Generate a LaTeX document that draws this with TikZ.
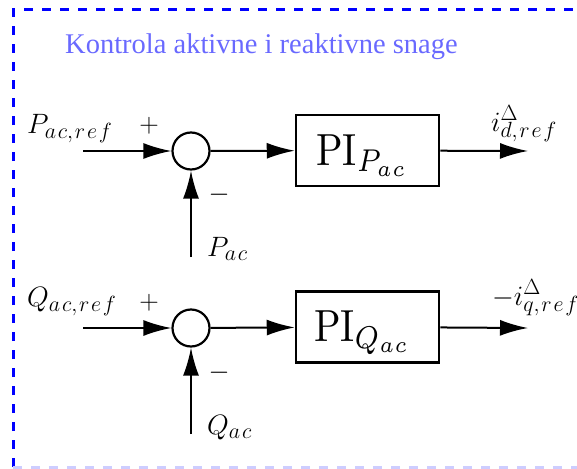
\RequirePackage{fix-cm}
\documentclass[tikz,border=0pt]{standalone}
\usepackage{fontspec}
\newfontfamily\titlefont{Liberation Serif}
\usetikzlibrary{arrows.meta,calc}
\DeclareMathSizes{28}{28}{22}{17}
\DeclareMathSizes{27}{27}{21}{16}
\definecolor{bordblue}{RGB}{0,0,255}
\definecolor{titleblue}{RGB}{105,105,255}
\definecolor{faintblue}{RGB}{205,205,255}
\newcommand{\sk}{\kern1.8pt}
\tikzset{
  conn/.style={line width=2pt,-{Latex[length=28pt,width=16pt]}},
  sumc/.style={circle,draw,line width=2.2pt,minimum size=37pt,inner sep=0pt},
  pibox/.style={draw,line width=2.5pt,minimum width=143pt,minimum height=71pt,inner sep=0pt},
  pitext/.style={inner sep=0pt,anchor=base,font=\normalsize,xscale=3.9,yscale=4.5},
  lab/.style={inner sep=0pt,font=\fontsize{28}{32}\selectfont},
  sgn/.style={inner sep=0pt,font=\fontsize{27}{30}\selectfont},
  frame/.style={bordblue,line width=3pt,dash pattern=on 9pt off 9pt},
}
\begin{document}
\begin{tikzpicture}[x=1pt,y=-1pt]
\useasboundingbox (0,0) rectangle (577,468);
% frame
\coordinate (fbl) at (13,467);
\coordinate (ftl) at (13,10);
\coordinate (ftr) at (590,10);
\coordinate (fbr) at (590,467);
\draw[frame] (fbl) -- (ftl) -- (ftr);
\draw[frame,faintblue] (fbl) -- (fbr);
\node[anchor=base west,inner sep=0pt,text=titleblue,font=\titlefont\fontsize{28.5}{32}\selectfont] (title) at (65,54) {Kontrola aktivne i reaktivne snage};
% row 1
\coordinate (in1) at (83,151);
\node[sumc] (s1) at (191,151) {};
\node[pibox] (b1) at (367.5,150.5) {};
\node[pitext] (t1) at ($(b1.center)+(-5,14.5)$) {$\mathrm{PI}_{P_{ac}}$};
\coordinate (out1) at (528,151);
\coordinate (fb1) at (191,257);
\draw[conn] (in1) -- (s1);
\draw[conn] (s1) -- (b1);
\draw[conn] (b1) -- (out1);
\draw[conn] (fb1) -- (s1);
\node[lab,anchor=base west] (l1) at (27,133) {$P_{a\sk c,\sk r\sk e\sk f}$};
\node[sgn] (p1) at (149,126) {$+$};
\node[sgn] (m1) at (219,195) {$-$};
\node[lab,anchor=base west] (l2) at (207,256) {$P_{a\sk c}$};
\node[lab,anchor=base west] (l3) at (491,131) {$i^{\Delta}_{d,\sk r\sk e\sk f}$};
% row 2
\coordinate (in2) at (83,328);
\node[sumc] (s2) at (191,328) {};
\node[pibox] (b2) at (367.5,327) {};
\node[pitext] (t2) at ($(b2.center)+(-5,14.5)$) {$\mathrm{PI}_{Q_{ac}}$};
\coordinate (out2) at (528,328);
\coordinate (fb2) at (191,434);
\draw[conn] (in2) -- (s2);
\draw[conn] (s2) -- (b2);
\draw[conn] (b2) -- (out2);
\draw[conn] (fb2) -- (s2);
\node[lab,anchor=base west] (l4) at (27,306) {$Q_{a\sk c,\sk r\sk e\sk f}$};
\node[sgn] (p2) at (149,303) {$+$};
\node[sgn] (m2) at (219,373) {$-$};
\node[lab,anchor=base west] (l5) at (207,434) {$Q_{a\sk c}$};
\node[lab,anchor=base west] (l6) at (492,305) {$-i^{\Delta}_{q,\sk r\sk e\sk f}$};
\end{tikzpicture}
\end{document}
